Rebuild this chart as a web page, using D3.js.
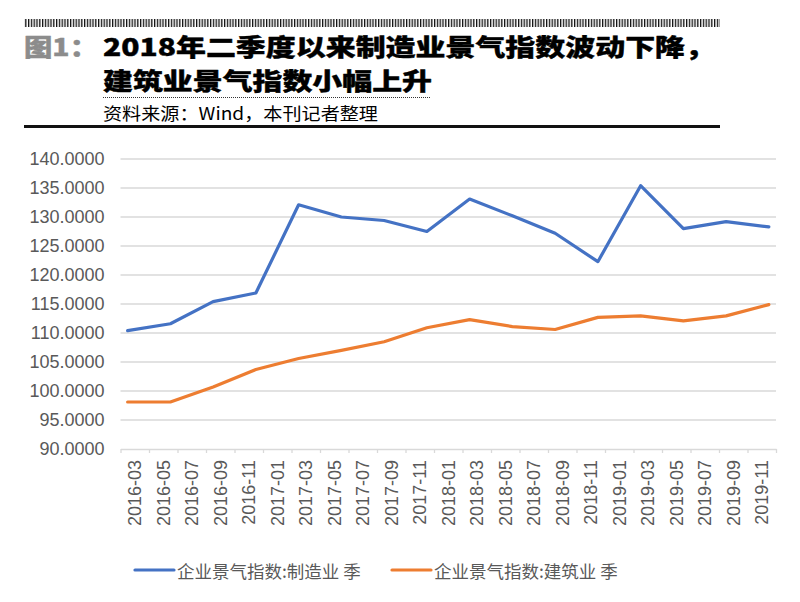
<!DOCTYPE html>
<html>
<head>
<meta charset="utf-8">
<script src="https://cdn.jsdelivr.net/npm/d3@7"></script>
<style>
  body { margin: 0; background: #fff; }
  svg { display: block; }
</style>
</head>
<body>
<script>
// quarterly readings
const quarters = ["2016-03","2016-06","2016-09","2016-12","2017-03","2017-06","2017-09","2017-12",
                  "2018-03","2018-06","2018-09","2018-12","2019-03","2019-06","2019-09","2019-12"]
const manufacturing = [110.4,111.6,115.4,116.9,132.1,130.0,129.4,127.5,133.1,130.2,127.2,122.3,135.4,128.0,129.2,128.3]
const construction = [98.1,98.1,100.7,103.7,105.6,107.0,108.5,110.9,112.3,111.1,110.6,112.7,112.95,112.1,112.95,114.9]
const tickLabels = ["2016-03","2016-05","2016-07","2016-09","2016-11","2017-01","2017-03","2017-05","2017-07",
                    "2017-09","2017-11","2018-01","2018-03","2018-05","2018-07","2018-09","2018-11","2019-01",
                    "2019-03","2019-05","2019-07","2019-09","2019-11"]
const seriesNames = ["企业景气指数:制造业 季", "企业景气指数:建筑业 季"]
const colors = ["#4472C4", "#ED7D31"]
const titleLines = ["2018年二季度以来制造业景气指数波动下降，", "建筑业景气指数小幅上升"]

const width = 800, height = 602
const marginLeft = 120.5, marginRight = 24, marginTop = 159, marginBottom = 153

const svg = d3.select("body").append("svg")
      .attr("width", width)
      .attr("height", height)
      .attr("viewBox", [0, 0, width, height])

// months since 2016-03
const monthIndex = s => (+s.slice(0, 4) - 2016) * 12 + (+s.slice(5, 7) - 3)
const nMonths = monthIndex("2019-12") + 1

const xScale = d3.scaleLinear().domain([0, nMonths]).range([marginLeft, width - marginRight])
const yScale = d3.scaleLinear().domain([90, 140]).range([height - marginBottom, marginTop])

// ---- header ----
const defs = svg.append("defs")
defs.append("pattern")
      .attr("id", "hatch")
      .attr("patternUnits", "userSpaceOnUse")
      .attr("width", 2.8).attr("height", 10)
      .append("rect")
      .attr("width", 1.3).attr("height", 10)
      .attr("fill", "#111")

svg.append("rect")
      .attr("x", 24).attr("y", 19)
      .attr("width", 696).attr("height", 8)
      .attr("fill", "url(#hatch)")

const cjk = "'Noto Sans CJK SC', 'Noto Sans', sans-serif"

// title: one text block, two lines
const title = svg.append("text")
      .attr("dominant-baseline", "central")
      .attr("font-family", cjk)
      .attr("font-weight", 900)
      .attr("font-size", 23.5)
      .attr("stroke-width", 0.4)
      .attr("stroke-linejoin", "round")

title.append("tspan")
      .attr("x", 24).attr("y", 45.5)
      .attr("fill", "#8c8c8c")
      .attr("stroke", "#8c8c8c")
      .attr("textLength", 74)
      .attr("lengthAdjust", "spacingAndGlyphs")
      .text("图1：")

const titleWidths = [612, 329]
titleLines.forEach((t, i) => {
      title.append("tspan")
            .attr("x", 103).attr("y", 45.5 + i * 34.5)
            .attr("fill", "#000")
            .attr("stroke", "#000")
            .attr("textLength", titleWidths[i])
            .attr("lengthAdjust", "spacingAndGlyphs")
            .text(t)
})

svg.append("line")
      .attr("x1", 103).attr("x2", 430)
      .attr("y1", 97.5).attr("y2", 97.5)
      .attr("stroke", "#333")
      .attr("stroke-width", 1)
      .attr("stroke-dasharray", "1,1")

svg.append("text")
      .attr("x", 103).attr("y", 112)
      .attr("dominant-baseline", "central")
      .attr("font-family", cjk)
      .attr("font-size", 17)
      .attr("fill", "#000")
      .attr("textLength", 275)
      .attr("lengthAdjust", "spacingAndGlyphs")
      .text("资料来源：Wind，本刊记者整理")

svg.append("rect")
      .attr("x", 24).attr("y", 125)
      .attr("width", 696).attr("height", 3)
      .attr("fill", "#111")

// ---- grid + y axis ----
const yTicks = d3.range(90, 141, 5)

svg.append("g")
      .attr("stroke", "#d9d9d9")
      .attr("stroke-width", 1.3)
      .selectAll("line")
      .data(yTicks.filter(d => d > 90))
      .join("line")
      .attr("x1", xScale(0)).attr("x2", xScale(nMonths))
      .attr("y1", d => yScale(d)).attr("y2", d => yScale(d))

svg.append("g")
      .attr("transform", `translate(${marginLeft},0)`)
      .call(d3.axisLeft(yScale).tickValues(yTicks).tickFormat(d3.format(".4f")).tickSize(0).tickPadding(16))
      .call(g => g.select(".domain").remove())
      .call(g => g.selectAll(".tick text")
            .attr("font-family", "'Liberation Sans', Arial, sans-serif")
            .attr("font-size", 18)
            .attr("fill", "#595959"))

// ---- x axis ----
svg.append("g")
      .attr("transform", `translate(0,${yScale(90)})`)
      .call(d3.axisBottom(xScale).tickValues(d3.range(0, nMonths + 1, 2)).tickFormat("").tickSize(4).tickSizeOuter(0))
      .call(g => g.select(".domain").attr("stroke", "#d9d9d9").attr("stroke-width", 1.3))
      .call(g => g.selectAll(".tick line").attr("stroke", "#d9d9d9").attr("stroke-width", 1.3))

svg.append("g")
      .attr("transform", `translate(0,${yScale(90)})`)
      .call(d3.axisBottom(xScale)
            .tickValues(tickLabels.map(s => monthIndex(s) + 1))
            .tickFormat((d, i) => tickLabels[i])
            .tickSize(0))
      .call(g => g.select(".domain").remove())
      .call(g => g.selectAll(".tick text")
            .attr("font-family", "'Liberation Sans', Arial, sans-serif")
            .attr("font-size", 18)
            .attr("fill", "#595959")
            .attr("text-anchor", "end")
            .attr("dominant-baseline", "central")
            .attr("transform", "translate(0,11) rotate(-90)")
            .attr("x", 0).attr("y", 0).attr("dy", null))

// ---- lines ----
const line = d3.line()
      .x((d, i) => xScale(monthIndex(quarters[i]) + 0.5))
      .y(d => yScale(d))

svg.append("g")
      .attr("fill", "none")
      .attr("stroke-width", 3.2)
      .attr("stroke-linejoin", "round")
      .attr("stroke-linecap", "round")
      .selectAll("path")
      .data([manufacturing, construction])
      .join("path")
      .attr("stroke", (d, i) => colors[i])
      .attr("d", line)

// ---- legend ----
const legendX = [135, 392]
const legend = svg.append("g")
      .selectAll("g")
      .data(seriesNames)
      .join("g")
      .attr("transform", (d, i) => `translate(${legendX[i]},570)`)

legend.append("line")
      .attr("x1", 0).attr("x2", 39)
      .attr("stroke", (d, i) => colors[i])
      .attr("stroke-width", 3.2)
      .attr("stroke-linecap", "round")

legend.append("text")
      .attr("x", 42)
      .attr("dominant-baseline", "central")
      .attr("font-family", cjk)
      .attr("font-size", 17.5)
      .attr("fill", "#595959")
      .text(d => d)
</script>
</body>
</html>
